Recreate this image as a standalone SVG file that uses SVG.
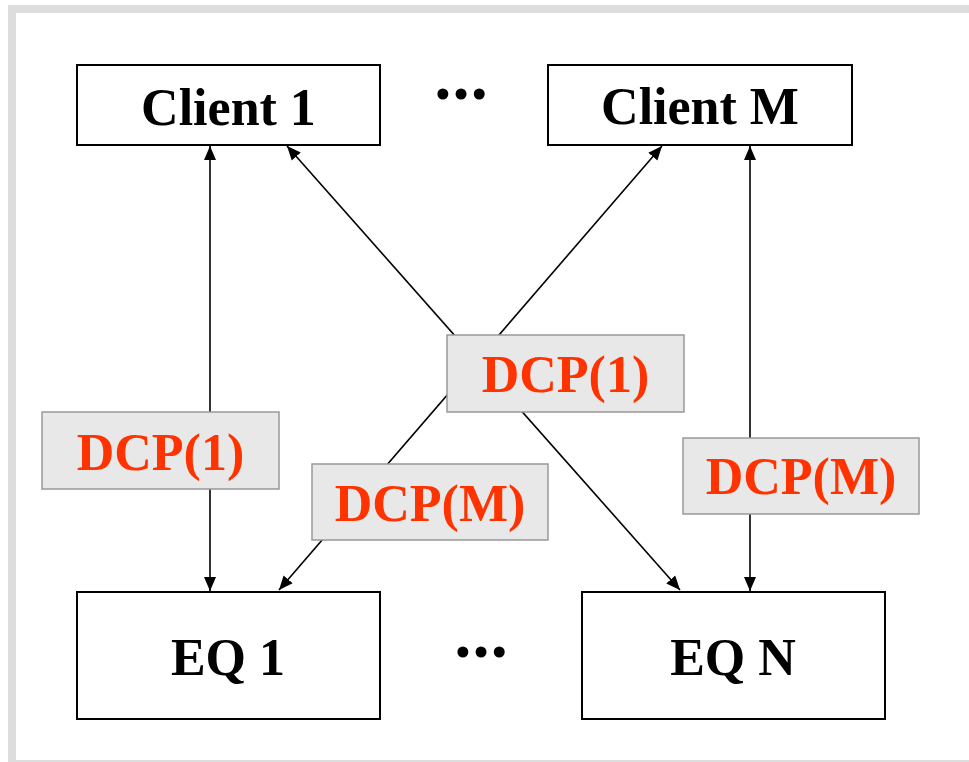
<svg xmlns="http://www.w3.org/2000/svg" width="969" height="762" viewBox="0 0 969 762">
<style>
.node{fill:#fff;stroke:#000;stroke-width:2}
.nt{font-family:"Liberation Serif","Times New Roman",serif;font-weight:bold;font-size:52px;fill:#000;text-anchor:middle}
.dots{stroke:#000;stroke-width:2.2;font-size:54px}
.lbl{fill:#e8e8e8;stroke:#999;stroke-width:1.5}
.lt{font-family:"Liberation Serif","Times New Roman",serif;font-weight:bold;font-size:52px;fill:#ff3300;text-anchor:middle}
.c{stroke:#000;stroke-width:1.6;fill:none;marker-start:url(#ah);marker-end:url(#ah)}
</style>
<defs>
<marker id="ah" markerUnits="userSpaceOnUse" markerWidth="15" markerHeight="13" refX="14" refY="6" orient="auto-start-reverse" viewBox="0 0 15 12">
<path d="M0,0 L14,6 L0,12 z" fill="#000"/>
</marker>
</defs>
<rect x="0" y="0" width="969" height="762" fill="#fff"/>
<rect x="8" y="5" width="961" height="757" fill="#dddddd"/>
<rect x="16" y="13" width="953" height="747" fill="#fff"/>
<g id="connectors">
<line class="c" x1="210" y1="591" x2="210" y2="146"/>
<line class="c" x1="750" y1="591" x2="750" y2="146"/>
<line class="c" x1="680" y1="590" x2="287" y2="146"/>
<line class="c" x1="279" y1="590" x2="662" y2="146"/>
</g>
<g id="client1"><rect class="node" x="77" y="65" width="303" height="80"/><text class="nt" x="228.5" y="125">Client 1</text></g>
<g id="clientM"><rect class="node" x="548" y="65" width="304" height="80"/><text class="nt" x="700" y="124">Client M</text></g>
<g id="eq1"><rect class="node" x="77" y="592" width="303" height="127"/><text class="nt" x="228" y="675">EQ 1</text></g>
<g id="eqN"><rect class="node" x="582" y="592" width="303" height="127"/><text class="nt" x="733" y="675">EQ N</text></g>
<g id="dots-top"><text class="nt dots" x="461" y="98">…</text></g>
<g id="dots-bottom"><text class="nt dots" x="481" y="656">…</text></g>
<g id="label-dcp1-left"><rect class="lbl" x="42" y="412" width="237" height="77"/><text class="lt" x="160.5" y="470">DCP(1)</text></g>
<g id="label-dcp1-center"><rect class="lbl" x="447" y="335" width="237" height="77"/><text class="lt" x="565.5" y="392">DCP(1)</text></g>
<g id="label-dcpM-middle"><rect class="lbl" x="312" y="464" width="236" height="76"/><text class="lt" x="430" y="521">DCP(M)</text></g>
<g id="label-dcpM-right"><rect class="lbl" x="683" y="438" width="236" height="76"/><text class="lt" x="801" y="494">DCP(M)</text></g>
</svg>
